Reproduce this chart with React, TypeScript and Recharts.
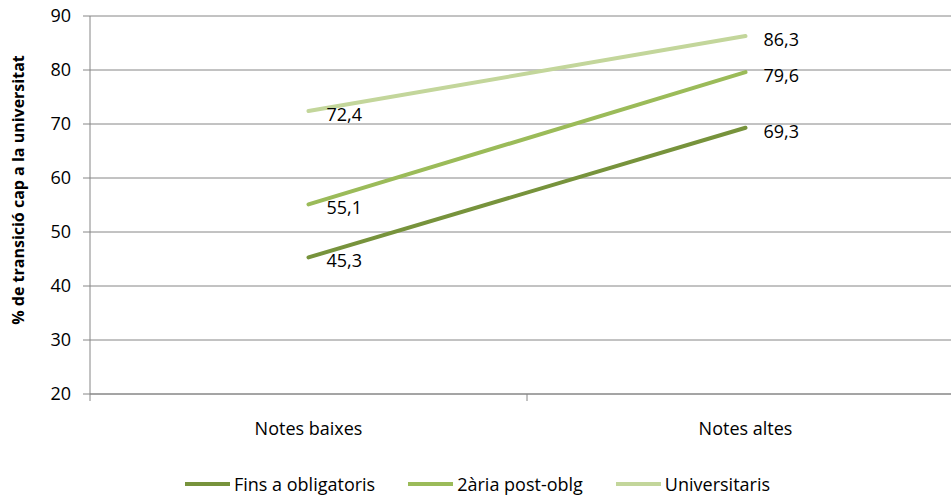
import React from "react";
import { LineChart, Line, XAxis, YAxis, CartesianGrid, Legend, Label } from "recharts";

const categories = ["Notes baixes", "Notes altes"];
const finsObligatoris = [45.3, 69.3];
const secundariaPost = [55.1, 79.6];
const universitaris = [72.4, 86.3];
const yTicks = [20, 30, 40, 50, 60, 70, 80, 90];

const series = [
  { key: "fins", name: "Fins a obligatoris", color: "#77933C" },
  { key: "sec", name: "2ària post-oblg", color: "#9BBB59" },
  { key: "univ", name: "Universitaris", color: "#C3D69B" },
];

const data = categories.map((name, i) => ({
  name,
  fins: finsObligatoris[i],
  sec: secundariaPost[i],
  univ: universitaris[i],
}));

const FONT = "'Open Sans', sans-serif";
const GRID = "#868686";

const fmt = (v: number) => v.toFixed(1).replace(".", ",");

const ValueLabel = (props: any) => {
  const { x, y, value } = props;
  return (
    <text x={x + 18} y={y + 3} fontSize={18} fontFamily={FONT} fill="#000" dominantBaseline="central" textAnchor="start">
      {fmt(value)}
    </text>
  );
};

const XTick = (props: any) => {
  const { x, y, payload, index } = props;
  const half = payload.offset || 218.5;
  return (
    <g>
      {index === 0 && <line x1={x - half} x2={x - half} y1={y - 8} y2={y - 1} stroke={GRID} />}
      <line x1={x + half} x2={x + half} y1={y - 8} y2={y - 1} stroke={GRID} />
      <text x={x} y={y + 26} fontSize={18} fontFamily={FONT} textAnchor="middle" dominantBaseline="central" fill="#000">
        {payload.value}
      </text>
    </g>
  );
};

const LegendContent = () => (
  <div style={{ display: "flex", justifyContent: "center", fontFamily: FONT, fontSize: 18, marginLeft: 4 }}>
    {series.map((s, i) => (
      <div key={s.key} style={{ display: "flex", alignItems: "center", marginRight: i < series.length - 1 ? 33 : 0 }}>
        <div style={{ width: 45, height: 4, background: s.color, marginRight: 4 }} />
        <span>{s.name}</span>
      </div>
    ))}
  </div>
);

export default function App() {
  return (
    <div style={{ position: "fixed", left: 0, top: 0, width: 951, height: 498, overflow: "hidden", background: "#fff" }}>
      <LineChart width={980} height={498} data={data} margin={{ top: 16, right: 16, bottom: 20, left: 0 }}>
        <CartesianGrid vertical={false} stroke={GRID} />
        <XAxis
          dataKey="name"
          scale="band"
          axisLine={{ stroke: GRID }}
          tickLine={false}
          tick={<XTick />}
          interval={0}
          height={60}
        />
        <YAxis
          domain={[20, 90]}
          ticks={yTicks}
          width={90}
          axisLine={{ stroke: GRID }}
          tickLine={{ stroke: GRID }}
          tickSize={7}
          tickMargin={12}
          tick={{ fontSize: 18, fontFamily: FONT, fill: "#000" }}
        >
          <Label
            content={() => (
              <text
                transform="translate(18,190) rotate(-90)"
                textAnchor="middle"
                dominantBaseline="central"
                fontSize={16}
                fontWeight="bold"
                fontFamily={FONT}
                fill="#000"
              >
                % de transició cap a la universitat
              </text>
            )}
          />
        </YAxis>
        <Legend
          verticalAlign="bottom"
          content={<LegendContent />}
          wrapperStyle={{ bottom: 2, left: 0, width: 951, height: 24 }}
        />
        {series.map((s) => (
          <Line
            key={s.key}
            dataKey={s.key}
            name={s.name}
            stroke={s.color}
            strokeWidth={4}
            strokeLinecap="round"
            dot={false}
            isAnimationActive={false}
            label={<ValueLabel />}
          />
        ))}
      </LineChart>
    </div>
  );
}
